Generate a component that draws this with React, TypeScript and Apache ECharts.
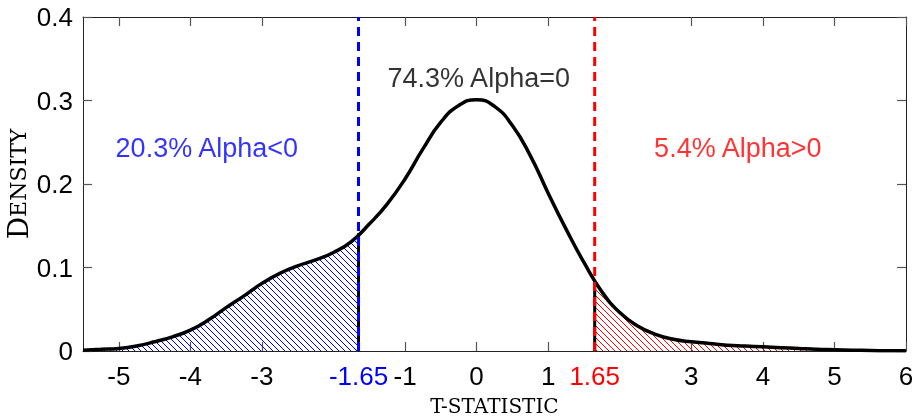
import React, { useEffect, useRef } from "react";
import * as echarts from "echarts";

const tValues = [-5.5, -5.25, -5, -4.75, -4.5, -4.25, -4, -3.75, -3.5, -3.25, -3, -2.75, -2.5, -2.25, -2, -1.75, -1.5, -1.25, -1, -0.75, -0.5, -0.25, 0, 0.25, 0.5, 0.75, 1, 1.25, 1.5, 1.75, 2, 2.25, 2.5, 2.75, 3, 3.25, 3.5, 3.75, 4, 4.25, 4.5, 4.75, 5, 5.25, 5.5, 5.75, 6];
const densityValues = [0.001, 0.002, 0.003, 0.006, 0.011, 0.017, 0.025, 0.037, 0.052, 0.066, 0.081, 0.093, 0.102, 0.109, 0.118, 0.131, 0.152, 0.176, 0.206, 0.242, 0.274, 0.294, 0.301, 0.293, 0.27, 0.234, 0.189, 0.146, 0.106, 0.071, 0.046, 0.03, 0.02, 0.014, 0.011, 0.009, 0.007, 0.006, 0.005, 0.004, 0.003, 0.002, 0.0015, 0.001, 0.0006, 0.0003, 0.0002];

const criticalLeft = -1.65;
const criticalRight = 1.65;
const criticalLeftDensity = 0.141;
const criticalRightDensity = 0.082;
const xTickValues = [-5, -4, -3, -1, 0, 1, 3, 4, 5, 6];
const xLabelValues = [-5, -4, -3, -1.65, -1, 0, 1, 1.65, 3, 4, 5, 6];

const annotations = [
  { x: -3.77, y: 0.243, text: "20.3% Alpha<0", color: "#0000ff" },
  { x: 0.03, y: 0.327, text: "74.3% Alpha=0", color: "#000000" },
  { x: 3.65, y: 0.243, text: "5.4% Alpha>0", color: "#ff0000" },
];

const SANS = "Liberation Sans";
const SERIF = "DejaVu Serif";

function hatchPattern(color: string) {
  const size = 6;
  const c = document.createElement("canvas");
  c.width = size;
  c.height = size;
  const ctx = c.getContext("2d")!;
  ctx.fillStyle = color;
  for (let i = 0; i < size; i++) ctx.fillRect(i, i, 1, 1);
  return { image: c.toDataURL(), repeat: "repeat", imageWidth: size, imageHeight: size };
}

export default function App() {
  const ref = useRef<HTMLDivElement>(null);
  useEffect(() => {
    if (!ref.current) return;
    const chart = echarts.init(ref.current, undefined, { renderer: "svg" });
    const curve = tValues.map((t, i) => [t, densityValues[i]]);
    const leftPart = curve.filter((p) => p[0] < criticalLeft).concat([[criticalLeft, criticalLeftDensity]]);
    const rightPart = [[criticalRight, criticalRightDensity]].concat(curve.filter((p) => p[0] > criticalRight));
    const axisLine = { show: true, onZero: false, lineStyle: { color: "#222", width: 1 } };
    const tick = { show: true, inside: true, length: 9, lineStyle: { color: "#555", width: 1.2 } };
    chart.setOption({
      animation: false,
      grid: { left: 83, right: 11, top: 17, bottom: 67, containLabel: false, outerBoundsMode: "none" },
      xAxis: [
        {
          type: "value",
          min: -5.5,
          max: 6,
          position: "bottom",
          axisLine,
          axisTick: { ...tick, customValues: xTickValues },
          splitLine: { show: false },
          axisLabel: {
            customValues: xLabelValues,
            margin: 12,
            fontSize: 26,
            fontFamily: SANS,
            color: "#000",
            formatter: (v: number) => {
              if (Math.abs(v - criticalLeft) < 1e-6) return "{b|-1.65}";
              if (Math.abs(v - criticalRight) < 1e-6) return "{r|1.65}";
              return String(v);
            },
            rich: {
              b: { color: "#0000ff", fontSize: 26, fontFamily: SANS },
              r: { color: "#ff0000", fontSize: 26, fontFamily: SANS },
            },
          },
          name: "T-STATISTIC",
          nameLocation: "middle",
          nameMoveOverlap: false,
          nameGap: 45,
          nameTextStyle: { fontFamily: SERIF, fontSize: 20, color: "#000" },
        },
        {
          type: "value",
          min: -5.5,
          max: 6,
          position: "top",
          axisLine,
          axisTick: { ...tick, customValues: xTickValues },
          splitLine: { show: false },
          axisLabel: { show: false },
        },
      ],
      yAxis: [
        {
          type: "value",
          min: 0,
          max: 0.4,
          interval: 0.1,
          position: "left",
          axisLine,
          axisTick: tick,
          splitLine: { show: false },
          axisLabel: {
            margin: 10,
            fontSize: 26,
            fontFamily: SANS,
            color: "#000",
            formatter: (v: number) => (v === 0 ? "0" : v.toFixed(1)),
          },
          name: "{a|D}{b|ENSITY}",
          nameLocation: "middle",
          nameMoveOverlap: false,
          nameGap: 51,
          nameTextStyle: {
            rich: {
              a: { fontFamily: SERIF, fontSize: 28, color: "#000" },
              b: { fontFamily: SERIF, fontSize: 22, color: "#000" },
            },
          },
        },
        {
          type: "value",
          min: 0,
          max: 0.4,
          interval: 0.1,
          position: "right",
          axisLine,
          axisTick: tick,
          splitLine: { show: false },
          axisLabel: { show: false },
        },
      ],
      series: [
        {
          type: "line",
          data: leftPart,
          smooth: true,
          symbol: "none",
          lineStyle: { width: 0, color: "#0000ff" },
          areaStyle: { color: hatchPattern("#0000ff"), opacity: 1 },
          z: 1,
        },
        {
          type: "line",
          data: rightPart,
          smooth: true,
          symbol: "none",
          lineStyle: { width: 0, color: "#ff0000" },
          areaStyle: { color: hatchPattern("#ff0000"), opacity: 1 },
          z: 1,
        },
        {
          type: "line",
          data: curve,
          smooth: true,
          symbol: "none",
          lineStyle: { width: 3.5, color: "#000" },
          z: 3,
        },
        {
          type: "line",
          data: [[criticalLeft, 0], [criticalLeft, criticalLeftDensity]],
          symbol: "none",
          lineStyle: { width: 3, color: "#000" },
          z: 3,
        },
        {
          type: "line",
          data: [[criticalRight, 0], [criticalRight, criticalRightDensity]],
          symbol: "none",
          lineStyle: { width: 3, color: "#000" },
          z: 3,
        },
        {
          type: "line",
          data: [[criticalLeft, 0], [criticalLeft, 0.4]],
          symbol: "none",
          lineStyle: { width: 3, color: "#0000ff", type: [9, 6] },
          z: 4,
        },
        {
          type: "line",
          data: [[criticalRight, 0], [criticalRight, 0.4]],
          symbol: "none",
          lineStyle: { width: 3, color: "#ff0000", type: [9, 6] },
          z: 4,
        },
        {
          type: "scatter",
          data: annotations.map((a) => ({
            value: [a.x, a.y],
            label: {
              show: true,
              position: "inside",
              formatter: a.text,
              color: a.color,
              fontSize: 27,
              fontFamily: SANS,
            },
          })),
          symbolSize: 0,
          itemStyle: { color: "rgba(0,0,0,0)" },
          z: 5,
        },
      ],
    });
    return () => chart.dispose();
  }, []);
  return <div ref={ref} style={{ position: "fixed", left: 0, top: 0, width: 917, height: 418 }} />;
}
